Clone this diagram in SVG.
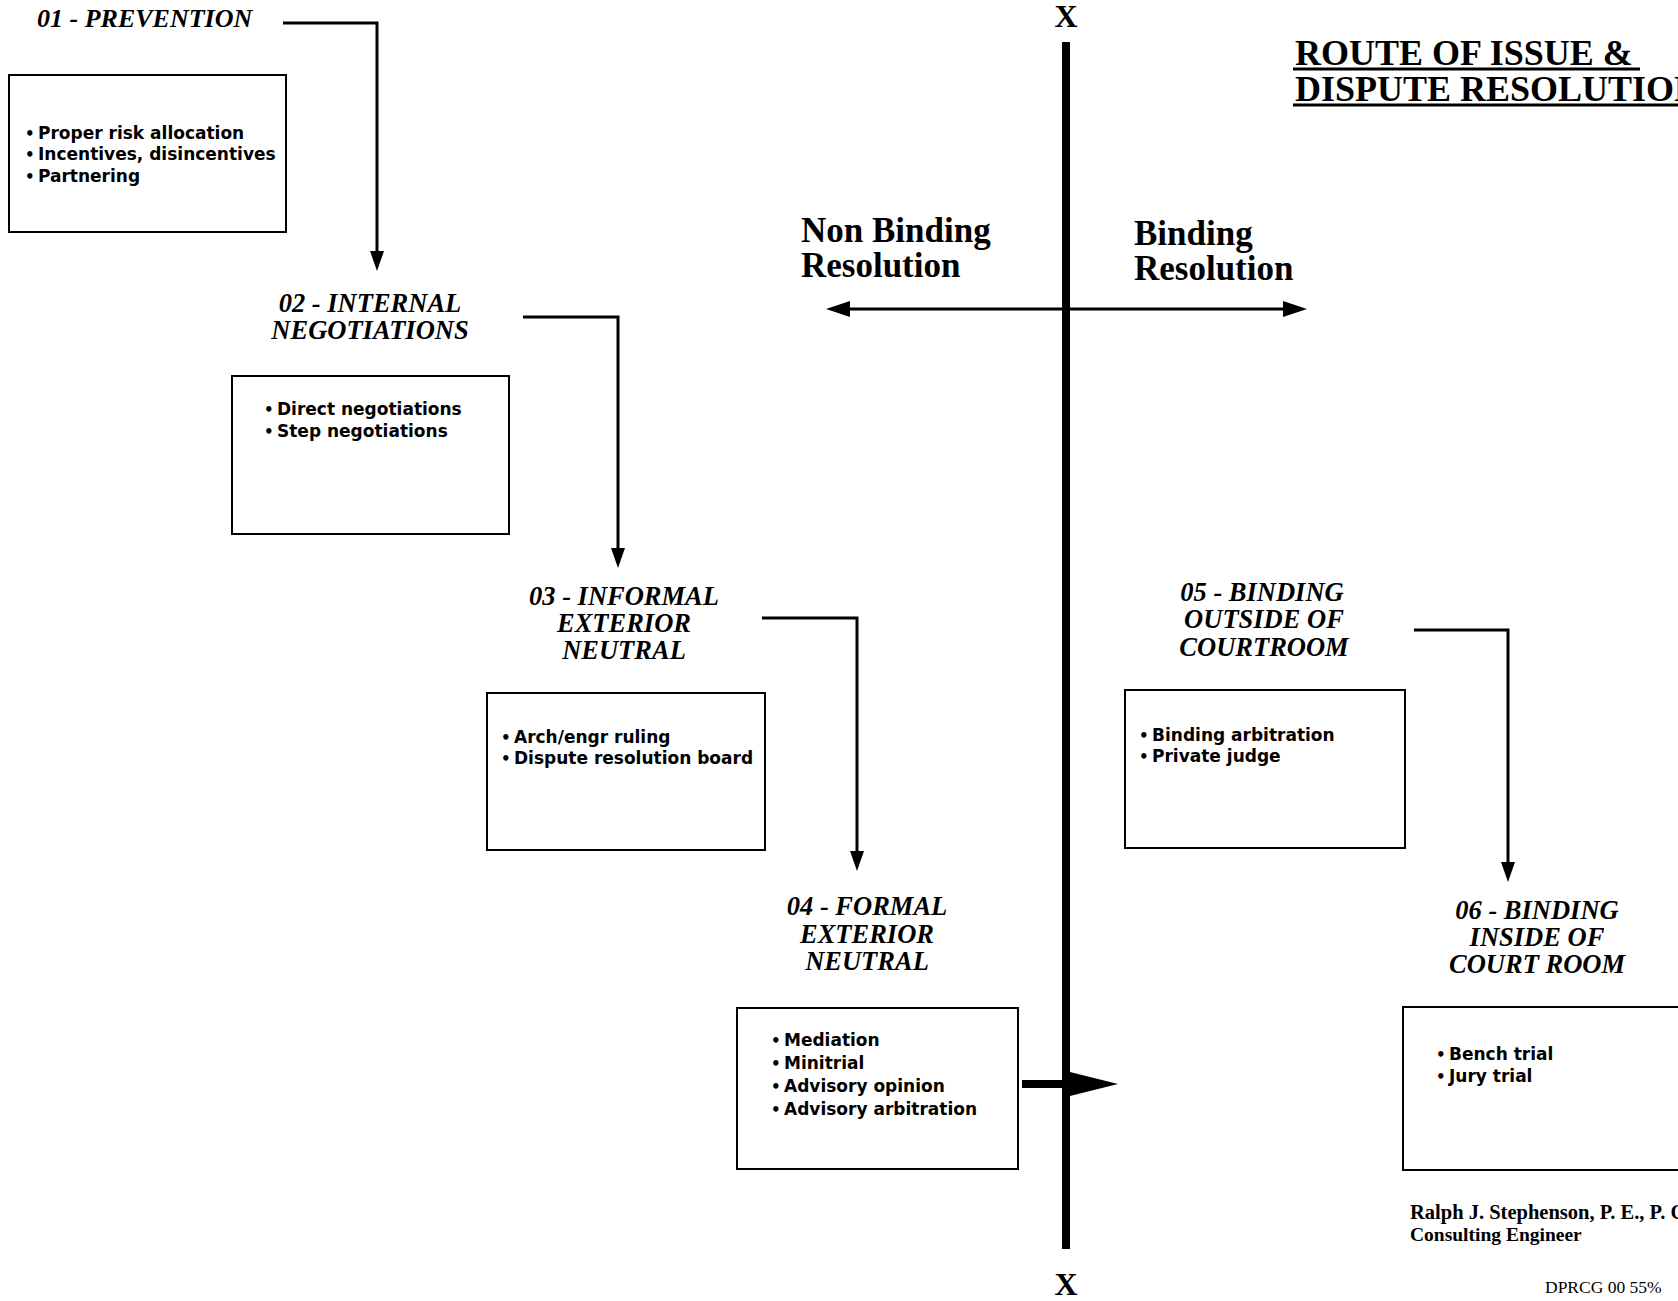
<svg xmlns="http://www.w3.org/2000/svg" width="1678" height="1301" viewBox="0 0 1678 1301">
<defs>
<style>
.bg{fill:#fff}
.box{fill:none;stroke:#000;stroke-width:2}
.ttl{font-family:"Liberation Serif","Times New Roman",serif;font-weight:bold;font-style:italic;font-size:26.5px;fill:#000;text-anchor:middle}
.ttl0{font-family:"Liberation Serif","Times New Roman",serif;font-weight:bold;font-style:italic;font-size:26px;fill:#000}
.blt{font-family:"DejaVu Sans","Liberation Sans",sans-serif;font-weight:bold;font-size:17px;fill:#000}
.dot{font-size:15px}
.lab{font-family:"Liberation Serif","Times New Roman",serif;font-weight:bold;font-size:35px;fill:#000}
.big{font-family:"Liberation Serif","Times New Roman",serif;font-weight:bold;font-size:36px;fill:#000}
.xm{font-family:"Liberation Serif","Times New Roman",serif;font-weight:bold;font-size:32px;fill:#000;text-anchor:middle}
.foot{font-family:"Liberation Serif","Times New Roman",serif;font-weight:bold;fill:#000}
.code{font-family:"Liberation Serif","Times New Roman",serif;font-size:17.5px;fill:#000}
.con{fill:none;stroke:#000;stroke-width:3}
</style>
<marker id="arr" viewBox="0 0 20 14" refX="2" refY="7" markerWidth="20" markerHeight="14" markerUnits="userSpaceOnUse" orient="auto">
<path d="M0,0 L20,7 L0,14 z" fill="#000"/>
</marker>
<marker id="arrH" viewBox="0 0 24 16" refX="2" refY="8" markerWidth="24" markerHeight="16" markerUnits="userSpaceOnUse" orient="auto-start-reverse">
<path d="M0,0 L24,8 L0,16 z" fill="#000"/>
</marker>
<marker id="arrBig" viewBox="0 0 48 24" refX="2" refY="12" markerWidth="48" markerHeight="24" markerUnits="userSpaceOnUse" orient="auto">
<path d="M0,0 L48,12 L0,24 z" fill="#000"/>
</marker>
</defs>
<rect class="bg" x="0" y="0" width="1678" height="1301"/>

<g id="title">
<text class="big" x="1295" y="65">ROUTE OF ISSUE &amp;</text>
<line x1="1293" y1="69" x2="1640" y2="69" stroke="#000" stroke-width="3"/>
<text class="big" x="1295" y="101">DISPUTE RESOLUTION</text>
<line x1="1293" y1="105" x2="1690" y2="105" stroke="#000" stroke-width="3"/>
</g>

<g id="axis">
<rect x="1062" y="42" width="8" height="1207" fill="#000"/>
<text class="xm" x="1066" y="27">X</text>
<text class="xm" x="1066" y="1295">X</text>
</g>

<g id="nonbinding">
<text class="lab" x="801" y="242">Non Binding</text>
<text class="lab" x="801" y="277">Resolution</text>
</g>
<g id="binding">
<text class="lab" x="1134" y="245">Binding</text>
<text class="lab" x="1134" y="280">Resolution</text>
</g>

<g id="connectors">
<path class="con" d="M283,23 H377 V253" marker-end="url(#arr)"/>
<path class="con" d="M523,317 H618 V550" marker-end="url(#arr)"/>
<path class="con" d="M762,618 H857 V853" marker-end="url(#arr)"/>
<path class="con" d="M1414,630 H1508 V864" marker-end="url(#arr)"/>
<line class="con" x1="848" y1="309" x2="1285" y2="309" marker-start="url(#arrH)" marker-end="url(#arrH)"/>
<line x1="1022" y1="1084" x2="1072" y2="1084" stroke="#000" stroke-width="8" marker-end="url(#arrBig)"/>
</g>

<g id="node01">
<text class="ttl0" x="37" y="27">01 - PREVENTION</text>
<rect class="box" x="9" y="75" width="277" height="157"/>
<text class="blt" y="139"><tspan class="dot" x="25">• </tspan><tspan x="38">Proper risk allocation</tspan></text>
<text class="blt" y="160"><tspan class="dot" x="25">• </tspan><tspan x="38">Incentives, disincentives</tspan></text>
<text class="blt" y="182"><tspan class="dot" x="25">• </tspan><tspan x="38">Partnering</tspan></text>
</g>

<g id="node02">
<text class="ttl" x="370" y="312" font-size="24.5">02 - INTERNAL</text>
<text class="ttl" x="370" y="339" font-size="24.5">NEGOTIATIONS</text>
<rect class="box" x="232" y="376" width="277" height="158"/>
<text class="blt" y="415"><tspan class="dot" x="264">• </tspan><tspan x="277">Direct negotiations</tspan></text>
<text class="blt" y="437"><tspan class="dot" x="264">• </tspan><tspan x="277">Step negotiations</tspan></text>
</g>

<g id="node03">
<text class="ttl" x="624" y="605">03 - INFORMAL</text>
<text class="ttl" x="624" y="632">EXTERIOR</text>
<text class="ttl" x="624" y="659">NEUTRAL</text>
<rect class="box" x="487" y="693" width="278" height="157"/>
<text class="blt" y="743"><tspan class="dot" x="501">• </tspan><tspan x="514">Arch/engr ruling</tspan></text>
<text class="blt" y="764"><tspan class="dot" x="501">• </tspan><tspan x="514">Dispute resolution board</tspan></text>
</g>

<g id="node04">
<text class="ttl" x="867" y="915">04 - FORMAL</text>
<text class="ttl" x="867" y="943">EXTERIOR</text>
<text class="ttl" x="867" y="970">NEUTRAL</text>
<rect class="box" x="737" y="1008" width="281" height="161"/>
<text class="blt" y="1046"><tspan class="dot" x="771">• </tspan><tspan x="784">Mediation</tspan></text>
<text class="blt" y="1069"><tspan class="dot" x="771">• </tspan><tspan x="784">Minitrial</tspan></text>
<text class="blt" y="1092"><tspan class="dot" x="771">• </tspan><tspan x="784">Advisory opinion</tspan></text>
<text class="blt" y="1115"><tspan class="dot" x="771">• </tspan><tspan x="784">Advisory arbitration</tspan></text>
</g>

<g id="node05">
<text class="ttl" x="1262" y="601">05 - BINDING</text>
<text class="ttl" x="1264" y="628">OUTSIDE OF</text>
<text class="ttl" x="1264" y="656">COURTROOM</text>
<rect class="box" x="1125" y="690" width="280" height="158"/>
<text class="blt" y="741"><tspan class="dot" x="1139">• </tspan><tspan x="1152">Binding arbitration</tspan></text>
<text class="blt" y="762"><tspan class="dot" x="1139">• </tspan><tspan x="1152">Private judge</tspan></text>
</g>

<g id="node06">
<text class="ttl" x="1537" y="919">06 - BINDING</text>
<text class="ttl" x="1537" y="946">INSIDE OF</text>
<text class="ttl" x="1537" y="973">COURT ROOM</text>
<rect class="box" x="1403" y="1007" width="300" height="163"/>
<text class="blt" y="1060"><tspan class="dot" x="1436">• </tspan><tspan x="1449">Bench trial</tspan></text>
<text class="blt" y="1082"><tspan class="dot" x="1436">• </tspan><tspan x="1449">Jury trial</tspan></text>
</g>

<g id="footer">
<text class="foot" x="1410" y="1219" font-size="20.5">Ralph J. Stephenson, P. E., P. C.</text>
<text class="foot" x="1410" y="1241" font-size="19.5">Consulting Engineer</text>
<text class="code" x="1545" y="1293">DPRCG 00 55%</text>
</g>
</svg>
